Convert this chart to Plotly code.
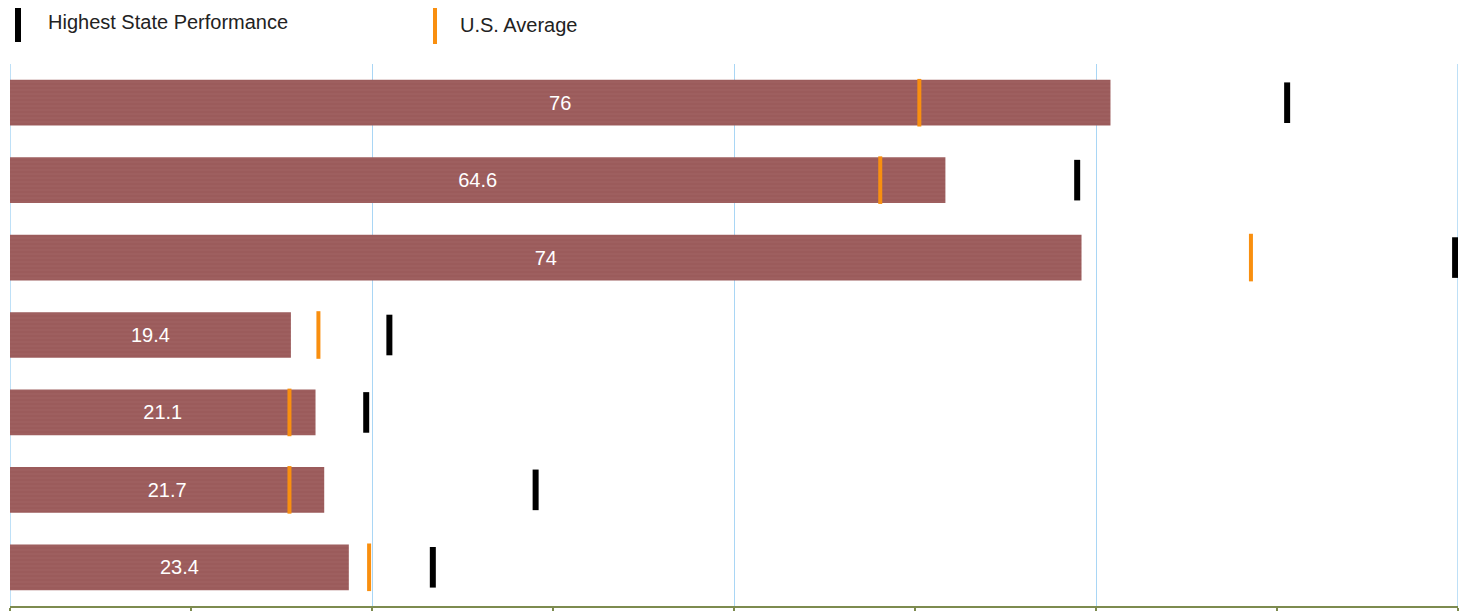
import plotly.graph_objects as go

categories = ["Row 1", "Row 2", "Row 3", "Row 4", "Row 5", "Row 6", "Row 7"]
state_values = [76, 64.6, 74, 19.4, 21.1, 21.7, 23.4]
us_average = [62.8, 60.1, 85.7, 21.3, 19.3, 19.3, 24.8]
highest_state = [88.2, 73.7, 99.8, 26.2, 24.6, 36.3, 29.2]
value_labels = ["76", "64.6", "74", "19.4", "21.1", "21.7", "23.4"]
x_range = [0, 100]

BAR = "#9b5b5b"
ORANGE = "#f98f0f"
OLIVE = "#7d8b4f"
GRID = "#a9d6f5"
FONT = "Liberation Sans, Arial, sans-serif"

# page body has an 8px margin; plot area sits at window x 10..1458, y 64..606
W, H = 1460, 603
ML, MR, MT, MB = 2, 10, 56, 5
PW, PH = W - ML - MR, H - MT - MB


def px(xw):
    return (xw - 8 - ML) / PW


def py(yw):
    return (H - MB - (yw - 8)) / PH


fig = go.Figure()
fig.add_trace(go.Bar(
    y=categories, x=state_values, orientation="h",
    text=value_labels, textposition="inside", insidetextanchor="middle",
    textfont=dict(color="white", size=20, family=FONT),
    marker=dict(color=BAR, line=dict(width=0),
                pattern=dict(shape="-", bgcolor=BAR, fgcolor="#a86b6b",
                             size=4, solidity=0.2, fgopacity=0.5)),
    width=0.59, showlegend=False, hoverinfo="x",
))
fig.add_trace(go.Scatter(
    y=categories, x=us_average, mode="markers", name="U.S. Average",
    marker=dict(symbol="line-ns", size=34, color=ORANGE,
                line=dict(color=ORANGE, width=4)),
    showlegend=False,
))
fig.add_trace(go.Scatter(
    y=categories, x=highest_state, mode="markers", name="Highest State Performance",
    marker=dict(symbol="line-ns", size=29, color="black",
                line=dict(color="black", width=6)),
    showlegend=False,
))

# edge gridlines (plotly skips gridlines on the plot-area boundary)
for xv in x_range:
    fig.add_shape(type="line", xref="x", yref="paper", x0=xv, x1=xv, y0=0, y1=1,
                  layer="below", line=dict(color=GRID, width=1.5))

# legend drawn manually
fig.add_shape(type="line", xref="paper", yref="paper", x0=px(18), x1=px(18),
              y0=py(42), y1=py(8), line=dict(color="black", width=6))
fig.add_annotation(xref="paper", yref="paper", x=px(46), y=py(22),
                   text="Highest State Performance", showarrow=False, xanchor="left",
                   yanchor="middle", font=dict(size=20, color="#222", family=FONT))
fig.add_shape(type="line", xref="paper", yref="paper", x0=px(435), x1=px(435),
              y0=py(44), y1=py(5), line=dict(color=ORANGE, width=4))
fig.add_annotation(xref="paper", yref="paper", x=px(458), y=py(25),
                   text="U.S. Average", showarrow=False, xanchor="left",
                   yanchor="middle", font=dict(size=20, color="#222", family=FONT))

fig.update_layout(
    width=W, height=H,
    margin=dict(l=ML, r=MR, t=MT, b=MB),
    paper_bgcolor="white", plot_bgcolor="white",
    xaxis=dict(range=x_range, dtick=25, tick0=0, showgrid=True, gridcolor=GRID,
               gridwidth=1, zeroline=False, showticklabels=False,
               showline=True, linecolor=OLIVE, linewidth=2,
               ticks="outside", ticklen=4, tickcolor=OLIVE, tickwidth=2,
               minor=dict(dtick=12.5, ticks="outside", ticklen=4, tickcolor=OLIVE,
                          tickwidth=2, showgrid=False),
               fixedrange=True),
    xaxis2=dict(range=x_range, overlaying="x", anchor="y", side="bottom",
                dtick=12.5, tick0=0, showgrid=False, zeroline=False,
                showticklabels=False, showline=False,
                ticks="inside", ticklen=4, tickcolor=OLIVE, tickwidth=2,
                fixedrange=True),
    yaxis=dict(categoryorder="array", categoryarray=categories,
               showticklabels=False, showgrid=False, zeroline=False, showline=False,
               range=[6.5, -0.5], fixedrange=True),
)

fig.write_html("out.html")
